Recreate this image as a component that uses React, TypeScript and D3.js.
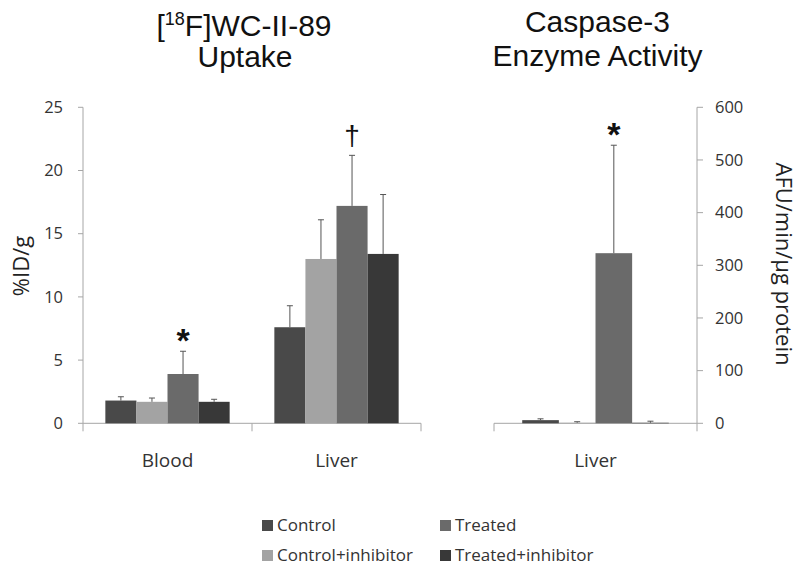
import React from "react";
import * as d3 from "d3";

const seriesNames = ["Control", "Control+inhibitor", "Treated", "Treated+inhibitor"];
const seriesColors = ["#494949", "#a3a3a3", "#6a6a6a", "#383838"];

const leftCategories = ["Blood", "Liver"];
const leftValues = [
  [1.8, 1.7, 3.9, 1.7],
  [7.6, 13.0, 17.2, 13.4],
];
const leftErrors = [
  [0.3, 0.3, 1.8, 0.2],
  [1.7, 3.1, 4.0, 4.7],
];
const leftTicks = [0, 5, 10, 15, 20, 25];
const leftMarks = [
  { cat: "Blood", series: 2, symbol: "*" },
  { cat: "Liver", series: 2, symbol: "†" },
];

const rightCategories = ["Liver"];
const rightValues = [[6, 1, 323, 1]];
const rightErrors = [[2.5, 2, 205, 3]];
const rightTicks = [0, 100, 200, 300, 400, 500, 600];
const rightMarks = [{ cat: "Liver", series: 2, symbol: "*" }];

const FONT = "'Open Sans', sans-serif";
const AXIS = "#a6a6a6";

export default function App() {
  const y0 = 423.3, yTop = 107.3;
  const yL = d3.scaleLinear().domain([0, 25]).range([y0, yTop]);
  const yR = d3.scaleLinear().domain([0, 600]).range([y0, yTop]);
  const xL = d3.scaleBand().domain(leftCategories).range([83, 421]).paddingInner(0.2645).paddingOuter(0.13225);
  const xR = d3.scaleBand().domain(rightCategories).range([494, 697]).paddingInner(0.278).paddingOuter(0.139);
  const sL = d3.scaleBand().domain(seriesNames).range([0, xL.bandwidth()]);
  const sR = d3.scaleBand().domain(seriesNames).range([0, xR.bandwidth()]);

  const bars = (cats, vals, errs, x, s, y) =>
    cats.map((c, ci) =>
      seriesNames.map((sn, si) => {
        const bx = (x(c) ?? 0) + (s(sn) ?? 0);
        const w = s.bandwidth();
        const v = vals[ci][si];
        const e = errs[ci][si];
        const cx = bx + w / 2;
        return (
          <g key={c + sn}>
            <rect x={bx} y={y(v)} width={w} height={y(0) - y(v)} fill={seriesColors[si]} />
            <line x1={cx} x2={cx} y1={y(v)} y2={y(v + e)} stroke="#555" strokeWidth={1} />
            <line x1={cx - 3} x2={cx + 3} y1={y(v + e)} y2={y(v + e)} stroke="#555" strokeWidth={1} />
          </g>
        );
      })
    );

  const marks = (mk, cats, vals, errs, x, s, y) =>
    mk.map((m, i) => {
      const ci = cats.indexOf(m.cat);
      const top = y(vals[ci][m.series] + errs[ci][m.series]);
      const cx = (x(m.cat) ?? 0) + (s(seriesNames[m.series]) ?? 0) + s.bandwidth() / 2;
      const isStar = m.symbol === "*";
      return (
        <text key={i} x={cx} y={isStar ? top - 4 : top - 10} textAnchor="middle"
          fontFamily="'Liberation Sans', Arial, sans-serif" fontSize={isStar ? 34 : 28}
          fontWeight={isStar ? "bold" : "normal"} dy={isStar ? "0.55em" : 0} fill="#111"
          transform={isStar ? `translate(0,-14)` : undefined}>
          {m.symbol}
        </text>
      );
    });

  return (
    <svg width={800} height={571} style={{ display: "block", position: "absolute", left: 0, top: 0, background: "#fff" }}>
      <rect width={800} height={571} fill="#fff" />
      {/* Titles */}
      <g fontFamily="'Liberation Sans', Arial, sans-serif" fontSize={30} fill="#111" textAnchor="middle">
        <text x={244} y={36}>
          [<tspan fontSize={18} dy={-11}>18</tspan><tspan dy={11}>F]WC-II-89</tspan>
        </text>
        <text x={245} y={67}>Uptake</text>
        <text x={597.5} y={32}>Caspase-3</text>
        <text x={597.5} y={66}>Enzyme Activity</text>
      </g>

      {/* Left axis */}
      <line x1={83} x2={83} y1={yTop} y2={y0} stroke={AXIS} />
      {leftTicks.map((t) => (
        <g key={t}>
          <line x1={78} x2={83} y1={yL(t)} y2={yL(t)} stroke={AXIS} />
          <text x={63} y={yL(t)} dy="0.35em" textAnchor="end" fontFamily={FONT} fontSize={16.5} fill="#333">{t}</text>
        </g>
      ))}
      <line x1={83} x2={421} y1={y0} y2={y0} stroke={AXIS} />
      {[83, (xL("Liver") ?? 0) - (xL.step() - xL.bandwidth()) / 2, 421].map((tx, i) => (
        <line key={i} x1={tx} x2={tx} y1={y0} y2={y0 + 8} stroke={AXIS} />
      ))}
      {leftCategories.map((c) => (
        <text key={c} x={(xL(c) ?? 0) + xL.bandwidth() / 2} y={467} textAnchor="middle" fontFamily={FONT} fontSize={19} fill="#333">{c}</text>
      ))}
      <text transform="translate(29,266) rotate(-90)" textAnchor="middle" fontFamily={FONT} fontSize={22} fill="#222">%ID/g</text>

      {bars(leftCategories, leftValues, leftErrors, xL, sL, yL)}
      {marks(leftMarks, leftCategories, leftValues, leftErrors, xL, sL, yL)}

      {/* Right axis */}
      <line x1={697} x2={697} y1={yTop} y2={y0} stroke={AXIS} />
      {rightTicks.map((t) => (
        <g key={t}>
          <line x1={697} x2={703} y1={yR(t)} y2={yR(t)} stroke={AXIS} />
          <text x={715} y={yR(t)} dy="0.35em" textAnchor="start" fontFamily={FONT} fontSize={16.5} fill="#333">{t}</text>
        </g>
      ))}
      <line x1={494} x2={697} y1={y0} y2={y0} stroke={AXIS} />
      {[494, 697].map((tx, i) => (
        <line key={i} x1={tx} x2={tx} y1={y0} y2={y0 + 8} stroke={AXIS} />
      ))}
      {rightCategories.map((c) => (
        <text key={c} x={(xR(c) ?? 0) + xR.bandwidth() / 2} y={467} textAnchor="middle" fontFamily={FONT} fontSize={19} fill="#333">{c}</text>
      ))}
      <text transform="translate(776,264) rotate(90)" textAnchor="middle" fontFamily={FONT} fontSize={22} fill="#222">AFU/min/µg protein</text>

      {bars(rightCategories, rightValues, rightErrors, xR, sR, yR)}
      {marks(rightMarks, rightCategories, rightValues, rightErrors, xR, sR, yR)}

      {/* Legend */}
      {seriesNames.map((n, i) => {
        const col = i === 0 || i === 1 ? 0 : 1;
        const row = i === 0 || i === 2 ? 0 : 1;
        const lx = col === 0 ? 262 : 440;
        const ly = 520 + row * 30;
        return (
          <g key={n}>
            <rect x={lx} y={ly} width={11} height={11} fill={seriesColors[i]} />
            <text x={lx + 15} y={ly + 11} fontFamily={FONT} fontSize={17} fill="#333">{n}</text>
          </g>
        );
      })}
    </svg>
  );
}
